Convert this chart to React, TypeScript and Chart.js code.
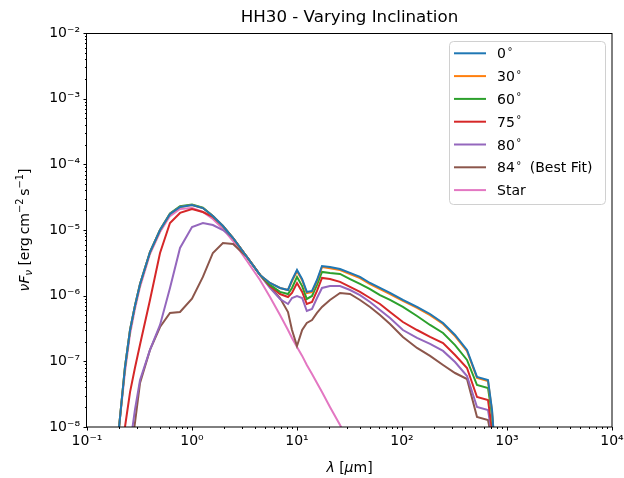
import React, { useEffect, useRef } from "react";
import { Chart, registerables } from "chart.js";

Chart.register(...registerables);

// ---------- data ----------
const wavelength = [
  0.202, 0.23, 0.257, 0.286, 0.32, 0.398, 0.496, 0.617, 0.769, 1.0, 1.27, 1.58, 1.97, 2.46, 3.34,
  4.44, 5.53, 6.89, 8.21, 8.96, 10.0, 11.2, 12.4, 13.9, 15.5, 17.3, 20.6, 25.7, 32.0, 39.8, 49.6,
  61.7, 76.9, 102, 139, 185, 246, 320, 416, 518, 659, 720, 803,
];

const flux0 = [
  1.0e-8, 8.2e-8, 3.0e-7, 7.0e-7, 1.51e-6, 4.62e-6, 1.0e-5, 1.75e-5, 2.24e-5, 2.4e-5, 2.16e-5,
  1.63e-5, 1.15e-5, 7.55e-6, 3.88e-6, 2.07e-6, 1.56e-6, 1.31e-6, 1.22e-6, 1.73e-6, 2.46e-6,
  1.79e-6, 1.14e-6, 1.18e-6, 1.73e-6, 2.83e-6, 2.73e-6, 2.55e-6, 2.22e-6, 1.93e-6, 1.56e-6,
  1.31e-6, 1.1e-6, 8.6e-7, 6.73e-7, 5.26e-7, 3.84e-7, 2.52e-7, 1.49e-7, 5.78e-8, 5.2e-8, 1.82e-8,
  1.56e-9,
];

const flux30 = [
  1.0e-8, 8.2e-8, 3.0e-7, 7.0e-7, 1.51e-6, 4.62e-6, 1.0e-5, 1.75e-5, 2.24e-5, 2.4e-5, 2.16e-5,
  1.63e-5, 1.15e-5, 7.55e-6, 3.88e-6, 2.07e-6, 1.56e-6, 1.31e-6, 1.22e-6, 1.66e-6, 2.36e-6,
  1.72e-6, 1.09e-6, 1.13e-6, 1.66e-6, 2.72e-6, 2.62e-6, 2.45e-6, 2.13e-6, 1.85e-6, 1.5e-6,
  1.26e-6, 1.06e-6, 8.3e-7, 6.5e-7, 5.05e-7, 3.7e-7, 2.42e-7, 1.43e-7, 5.6e-8, 5.0e-8, 1.75e-8,
  1.5e-9,
];

const flux60 = [
  1.0e-8, 8.2e-8, 3.0e-7, 7.0e-7, 1.51e-6, 4.62e-6, 1.0e-5, 1.78e-5, 2.3e-5, 2.44e-5, 2.18e-5,
  1.63e-5, 1.15e-5, 7.55e-6, 3.88e-6, 2.07e-6, 1.46e-6, 1.14e-6, 1.06e-6, 1.31e-6, 1.93e-6,
  1.4e-6, 8.9e-7, 9.89e-7, 1.46e-6, 2.3e-6, 2.22e-6, 2.14e-6, 1.79e-6, 1.51e-6, 1.26e-6, 1.02e-6,
  8.6e-7, 6.73e-7, 4.9e-7, 3.58e-7, 2.7e-7, 1.77e-7, 1.05e-7, 4.36e-8, 3.93e-8, 1.52e-8, 1.56e-9,
];

const flux75 = [
  3.15e-9, 1.0e-8, 3.4e-8, 7.9e-8, 1.8e-7, 8.6e-7, 4.47e-6, 1.28e-5, 1.82e-5, 2.09e-5, 1.88e-5,
  1.58e-5, 1.15e-5, 7.55e-6, 3.88e-6, 2.07e-6, 1.4e-6, 1.06e-6, 9.55e-7, 1.1e-6, 1.56e-6, 1.14e-6,
  7.47e-7, 8.01e-7, 1.18e-6, 1.86e-6, 1.79e-6, 1.62e-6, 1.36e-6, 1.14e-6, 9.22e-7, 7.47e-7,
  5.64e-7, 3.97e-7, 3.0e-7, 2.35e-7, 1.9e-7, 1.25e-7, 7.92e-8, 2.86e-8, 2.58e-8, 9.0e-9, 1.1e-9,
];

const flux80 = [
  7.7e-10, 2.2e-9, 5.3e-9, 1.82e-8, 5.2e-8, 1.49e-7, 3.58e-7, 1.31e-6, 5.32e-6, 1.11e-5, 1.28e-5,
  1.19e-5, 1.0e-5, 7.55e-6, 3.88e-6, 2.07e-6, 1.31e-6, 8.9e-7, 7.47e-7, 9.22e-7, 9.89e-7, 9.22e-7,
  5.84e-7, 6.27e-7, 9.22e-7, 1.31e-6, 1.4e-6, 1.4e-6, 1.22e-6, 1.02e-6, 8.01e-7, 6.05e-7, 4.57e-7,
  3.0e-7, 2.27e-7, 1.84e-7, 1.44e-7, 9.77e-8, 5.98e-8, 2.02e-8, 1.82e-8, 7.55e-9, 7.7e-10,
];

const flux84 = [
  4.0e-10, 1.1e-9, 3.15e-9, 1.15e-8, 4.68e-8, 1.49e-7, 3.33e-7, 5.45e-7, 5.64e-7, 9.0e-7, 1.93e-6,
  4.47e-6, 6.34e-6, 6.12e-6, 3.88e-6, 2.07e-6, 1.36e-6, 9.22e-7, 5.64e-7, 3.0e-7, 1.71e-7, 3.0e-7,
  3.84e-7, 4.26e-7, 5.45e-7, 6.73e-7, 8.6e-7, 1.1e-6, 1.06e-6, 8.6e-7, 6.73e-7, 5.08e-7, 3.71e-7,
  2.35e-7, 1.6e-7, 1.21e-7, 8.8e-8, 6.64e-8, 5.38e-8, 1.42e-8, 1.28e-8, 6.34e-9, 5.4e-10,
];

const fluxStar = [
  1.0e-8, 6.9e-8, 2.61e-7, 6.27e-7, 1.36e-6, 4.31e-6, 9.33e-6, 1.63e-5, 2.09e-5, 2.16e-5, 1.88e-5,
  1.47e-5, 1.04e-5, 6.8e-6, 3.37e-6, 1.73e-6, 9.55e-7, 5.08e-7, 3.0e-7, 2.27e-7, 1.65e-7, 1.21e-7,
  8.8e-8, 6.41e-8, 4.68e-8, 3.41e-8, 2.02e-8, 1.07e-8, 5.5e-9, 2.8e-9, 1.4e-9, null, null, null,
  null, null, null, null, null, null, null, null, null,
];

const seriesLabels = ["0°", "30°", "60°", "75°", "80°", "84° (Best Fit)", "Star"];
const xTickValues = [0.1, 1, 10, 100, 1000, 10000];
const xTickLabels = ["10⁻¹", "10⁰", "10¹", "10²", "10³", "10⁴"];
const yTickValues = [1e-8, 1e-7, 1e-6, 1e-5, 1e-4, 1e-3, 1e-2];
const yTickLabels = ["10⁻⁸", "10⁻⁷", "10⁻⁶", "10⁻⁵", "10⁻⁴", "10⁻³", "10⁻²"];
const chartTitle = "HH30 - Varying Inclination";

// ---------- styles ----------
const COLORS = ["#1f77b4", "#ff7f0e", "#2ca02c", "#d62728", "#9467bd", "#8c564b", "#e377c2"];
const FONT = "'DejaVu Sans', sans-serif";

type Seg = { t: string; it?: boolean; sub?: boolean; sup?: boolean };

function segFont(s: Seg, size: number) {
  const sz = s.sub || s.sup ? size * 0.7 : size;
  return `${s.it ? "italic " : ""}${sz}px ${FONT}`;
}

function drawRich(ctx: CanvasRenderingContext2D, segs: Seg[], size: number) {
  let w = 0;
  for (const s of segs) {
    ctx.font = segFont(s, size);
    w += ctx.measureText(s.t).width;
  }
  let x = -w / 2;
  ctx.textAlign = "left";
  ctx.textBaseline = "alphabetic";
  for (const s of segs) {
    ctx.font = segFont(s, size);
    const dy = s.sub ? size * 0.22 : s.sup ? -size * 0.42 : 0;
    ctx.fillText(s.t, x, size * 0.36 + dy);
    x += ctx.measureText(s.t).width;
  }
}

function labelFor(v: number, vals: number[], labels: string[]) {
  const i = vals.findIndex((t) => Math.abs(Math.log10(t) - Math.log10(v)) < 1e-6);
  return i >= 0 ? labels[i] : "";
}

const decorPlugin = {
  id: "decor",
  afterDraw(chart: any) {
    const { ctx, chartArea: a, scales } = chart;
    ctx.save();
    ctx.strokeStyle = "#000";
    ctx.lineWidth = 1;
    const xs = scales.x;
    const ys = scales.y;
    for (let e = -1; e <= 4; e++) {
      for (let k = 1; k <= 9; k++) {
        const v = k * Math.pow(10, e);
        if (v > 10000 * 1.0001) continue;
        const px = Math.round(xs.getPixelForValue(v)) + 0.5;
        const len = k === 1 ? 3.5 : 2;
        ctx.beginPath();
        ctx.moveTo(px, a.bottom);
        ctx.lineTo(px, a.bottom + len);
        ctx.stroke();
      }
    }
    for (let e = -8; e <= -2; e++) {
      for (let k = 1; k <= 9; k++) {
        const v = k * Math.pow(10, e);
        if (v > 1e-2 * 1.0001) continue;
        const py = Math.round(ys.getPixelForValue(v)) + 0.5;
        const len = k === 1 ? 3.5 : 2;
        ctx.beginPath();
        ctx.moveTo(a.left, py);
        ctx.lineTo(a.left - len, py);
        ctx.stroke();
      }
    }
    ctx.strokeRect(Math.round(a.left) - 0.5, Math.round(a.top) + 0.5, Math.round(a.right - a.left) + 0.5, Math.round(a.bottom - a.top) - 0.5);

    ctx.fillStyle = "#000";
    ctx.font = `16.67px ${FONT}`;
    ctx.textAlign = "center";
    ctx.textBaseline = "middle";
    ctx.fillText(chartTitle, (a.left + a.right) / 2, 18);

    ctx.save();
    ctx.translate((a.left + a.right) / 2, 467);
    drawRich(ctx, [{ t: "λ", it: true }, { t: " [" }, { t: "μ", it: true }, { t: "m]" }], 14);
    ctx.restore();

    ctx.save();
    ctx.translate(24, (a.top + a.bottom) / 2);
    ctx.rotate(-Math.PI / 2);
    drawRich(
      ctx,
      [
        { t: "ν", it: true },
        { t: "F", it: true },
        { t: "ν", it: true, sub: true },
        { t: " [erg\u2009cm" },
        { t: "−2", sup: true },
        { t: "\u2009s" },
        { t: "−1", sup: true },
        { t: "]" },
      ],
      14
    );
    ctx.restore();

    const bx = 449.5, by = 41.5, bw = 156, bh = 163, r = 4;
    ctx.beginPath();
    ctx.moveTo(bx + r, by);
    ctx.lineTo(bx + bw - r, by);
    ctx.quadraticCurveTo(bx + bw, by, bx + bw, by + r);
    ctx.lineTo(bx + bw, by + bh - r);
    ctx.quadraticCurveTo(bx + bw, by + bh, bx + bw - r, by + bh);
    ctx.lineTo(bx + r, by + bh);
    ctx.quadraticCurveTo(bx, by + bh, bx, by + bh - r);
    ctx.lineTo(bx, by + r);
    ctx.quadraticCurveTo(bx, by, bx + r, by);
    ctx.closePath();
    ctx.fillStyle = "rgba(255,255,255,0.8)";
    ctx.fill();
    ctx.strokeStyle = "#d0d0d0";
    ctx.lineWidth = 1;
    ctx.stroke();

    chart.data.datasets.forEach((ds: any, i: number) => {
      const y = 53.3 + i * 22.8;
      ctx.strokeStyle = ds.borderColor;
      ctx.lineWidth = 2;
      ctx.beginPath();
      ctx.moveTo(454, y);
      ctx.lineTo(486, y);
      ctx.stroke();
      ctx.fillStyle = "#000";
      ctx.textAlign = "left";
      ctx.textBaseline = "alphabetic";
      const label: string = ds.label;
      const base = y + 5;
      let x = 497;
      const parts = label.split("°");
      ctx.font = `14px ${FONT}`;
      ctx.fillText(parts[0], x, base);
      x += ctx.measureText(parts[0]).width;
      if (parts.length > 1) {
        x += 1.5;
        ctx.font = `10px ${FONT}`;
        ctx.fillText("°", x, base - 3.5);
        x += ctx.measureText("°").width;
        ctx.font = `14px ${FONT}`;
        if (parts[1].length) {
          x += 4;
          ctx.fillText(parts[1], x, base);
        }
      }
    });
    ctx.restore();
  },
};

export default function App() {
  const ref = useRef<HTMLCanvasElement | null>(null);

  useEffect(() => {
    document.body.style.margin = "0";
    const canvas = ref.current;
    if (!canvas) return;
    const seriesFlux = [flux0, flux30, flux60, flux75, flux80, flux84, fluxStar];
    const datasets = seriesFlux.map((arr, i) => ({
      label: seriesLabels[i],
      data: wavelength.map((x, j) => ({ x, y: arr[j] })),
      borderColor: COLORS[i],
      backgroundColor: COLORS[i],
      borderWidth: 2,
      pointRadius: 0,
      tension: 0,
      fill: false,
    }));
    const chart = new Chart(canvas, {
      type: "line",
      data: { datasets },
      options: {
        responsive: false,
        animation: false,
        events: [],
        layout: { padding: { top: 33, right: 12, left: 0, bottom: 0 } },
        plugins: { legend: { display: false }, title: { display: false }, tooltip: { enabled: false } },
        scales: {
          x: {
            type: "logarithmic",
            min: 0.1,
            max: 10000,
            position: "bottom",
            grid: { display: false, drawTicks: false },
            border: { display: false },
            afterBuildTicks: (s: any) => {
              s.ticks = xTickValues.map((v) => ({ value: v }));
            },
            afterFit: (s: any) => {
              s.height = 51;
              s.paddingLeft = 0;
              s.paddingRight = 0;
            },
            ticks: {
              color: "#000",
              font: { family: FONT, size: 14 },
              padding: 6,
              maxRotation: 0,
              autoSkip: false,
              callback: (v: any) => labelFor(Number(v), xTickValues, xTickLabels),
            },
          },
          y: {
            type: "logarithmic",
            min: 1e-8,
            max: 1e-2,
            grid: { display: false, drawTicks: false },
            border: { display: false },
            afterBuildTicks: (s: any) => {
              s.ticks = yTickValues.map((v) => ({ value: v }));
            },
            afterFit: (s: any) => {
              s.width = 87;
              s.paddingTop = 0;
              s.paddingBottom = 0;
            },
            ticks: {
              color: "#000",
              font: { family: FONT, size: 14 },
              padding: 7,
              autoSkip: false,
              callback: (v: any) => labelFor(Number(v), yTickValues, yTickLabels),
            },
          },
        },
      } as any,
      plugins: [decorPlugin],
    });
    return () => chart.destroy();
  }, []);

  return (
    <div style={{ width: 624, height: 478 }}>
      <canvas ref={ref} width={624} height={478} style={{ display: "block" }} />
    </div>
  );
}
